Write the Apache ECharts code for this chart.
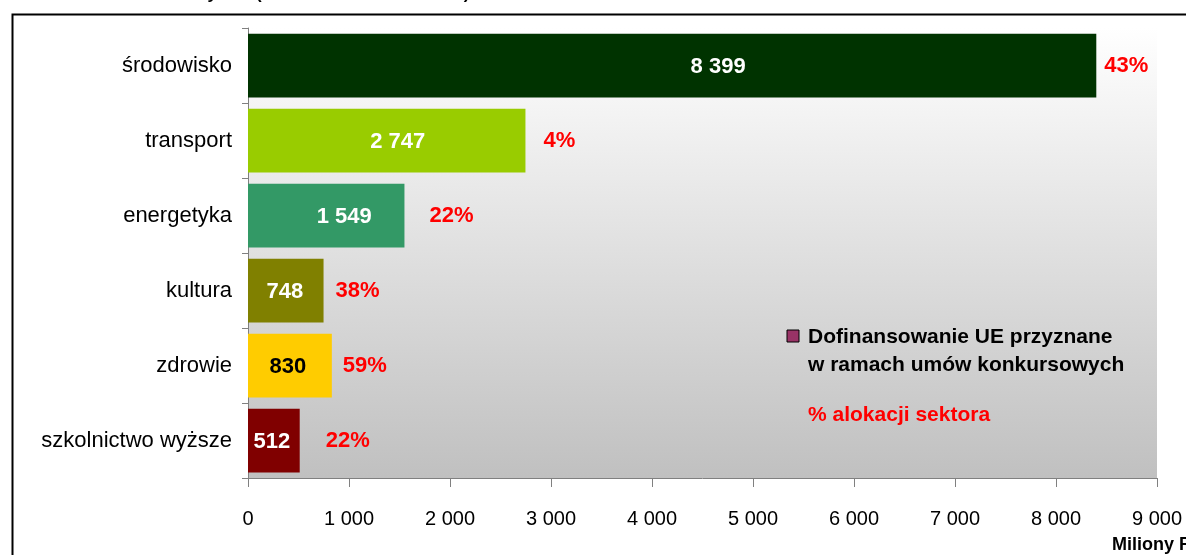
<!DOCTYPE html>
<html>
<head>
<meta charset="utf-8">
<script src="https://cdn.jsdelivr.net/npm/echarts@6/dist/echarts.min.js"></script>
<style>
  html, body { margin: 0; padding: 0; background: #fff; }
  #chart { width: 1186px; height: 555px; }
</style>
</head>
<body>
<div id="chart"></div>
<script>
  // dane
  const sectors = ['środowisko', 'transport', 'energetyka', 'kultura', 'zdrowie', 'szkolnictwo wyższe'];
  const funding = [8399, 2747, 1549, 748, 830, 512];
  const allocation = ['43%', '4%', '22%', '38%', '59%', '22%'];
  const barColors = ['#003300', '#99CC00', '#339966', '#808000', '#FFCC00', '#800000'];
  const xTicks = [0, 1000, 2000, 3000, 4000, 5000, 6000, 7000, 8000, 9000];

  // przesunięcia etykiet (jak w oryginale z Excela)
  const valueShift = [46, 11, 18, -1, -2, -2];
  const pctShift = [3, 13, 20, 7, 6, 21];

  const font = '"Liberation Sans", Arial, sans-serif';
  const fmt = v => String(v).replace(/\B(?=(\d{3})+(?!\d))/g, ' ');

  let chart = echarts.init(document.getElementById('chart'));

  let option = {
    animation: false,
    textStyle: { fontFamily: font },
    grid: {
      left: 248, top: 28, right: 29, bottom: 77,
      show: true,
      borderWidth: 0,
      backgroundColor: new echarts.graphic.LinearGradient(0, 0, 0, 1, [
        { offset: 0, color: '#FFFFFF' },
        { offset: 1, color: '#C0C0C0' }
      ])
    },
    xAxis: {
      type: 'value',
      min: xTicks[0],
      max: xTicks[xTicks.length - 1],
      interval: 1000,
      splitLine: { show: false },
      axisLine: { show: true, lineStyle: { color: '#808080', width: 1 } },
      axisTick: { show: true, length: 9, lineStyle: { color: '#808080' } },
      axisLabel: {
        margin: 31,
        color: '#000',
        fontSize: 20,
        fontFamily: font,
        formatter: v => fmt(v)
      }
    },
    yAxis: {
      type: 'category',
      inverse: true,
      data: sectors,
      axisLine: { show: true, lineStyle: { color: '#808080', width: 1 } },
      axisTick: { show: true, length: 6, alignWithLabel: false, lineStyle: { color: '#808080' } },
      axisLabel: { margin: 16, color: '#000', fontSize: 22, fontFamily: font }
    },
    series: [
      {
        name: 'Dofinansowanie UE przyznane w ramach umów konkursowych',
        type: 'bar',
        barWidth: '85%',
        data: funding.map((v, i) => ({
          value: v,
          itemStyle: { color: barColors[i] },
          label: {
            offset: [valueShift[i], 1],
            color: i === 4 ? '#000' : '#fff'
          }
        })),
        label: {
          show: true,
          position: 'inside',
          fontSize: 22,
          fontWeight: 'bold',
          fontFamily: font,
          formatter: p => fmt(p.value)
        }
      },
      {
        name: '% alokacji sektora',
        type: 'bar',
        barWidth: '85%',
        barGap: '-100%',
        silent: true,
        itemStyle: { color: 'rgba(0,0,0,0)' },
        data: funding.map((v, i) => ({
          value: v,
          label: { offset: [pctShift[i], 0] }
        })),
        label: {
          show: true,
          position: 'right',
          color: '#FF0000',
          fontSize: 22,
          fontWeight: 'bold',
          fontFamily: font,
          formatter: p => allocation[p.dataIndex]
        }
      }
    ],
    graphic: [
      {
        type: 'rect',
        left: 10, top: 12,
        shape: { width: 1300, height: 700 },
        style: { fill: 'none', stroke: '#000', lineWidth: 2 },
        silent: true
      },
      {
        type: 'text', x: 217, y: 3,
        style: { text: 'Wartość dofinansowania UE dla umowy', align: 'right', verticalAlign: 'bottom',
                 font: 'bold 17px ' + font, fill: '#000' }
      },
      {
        type: 'text', x: 256, y: 3,
        style: { text: '(stan na koniec 2009 roku)', align: 'left', verticalAlign: 'bottom',
                 font: 'bold 17px ' + font, fill: '#000' }
      },
      {
        type: 'rect',
        shape: { x: 787, y: 330, width: 12, height: 12 },
        style: { fill: '#993366', stroke: '#000', lineWidth: 1 }
      },
      {
        type: 'text', x: 808, y: 337,
        style: { text: 'Dofinansowanie UE przyznane', verticalAlign: 'middle',
                 font: 'bold 21px ' + font, fill: '#000' }
      },
      {
        type: 'text', x: 808, y: 365,
        style: { text: 'w ramach umów konkursowych', verticalAlign: 'middle',
                 font: 'bold 21px ' + font, fill: '#000' }
      },
      {
        type: 'text', x: 808, y: 415,
        style: { text: '% alokacji sektora', verticalAlign: 'middle',
                 font: 'bold 21px ' + font, fill: '#FF0000' }
      },
      {
        type: 'text', x: 1112, y: 545,
        style: { text: 'Miliony PLN', verticalAlign: 'middle',
                 font: 'bold 18px ' + font, fill: '#000' }
      }
    ]
  };

  chart.setOption(option);
</script>
</body>
</html>
